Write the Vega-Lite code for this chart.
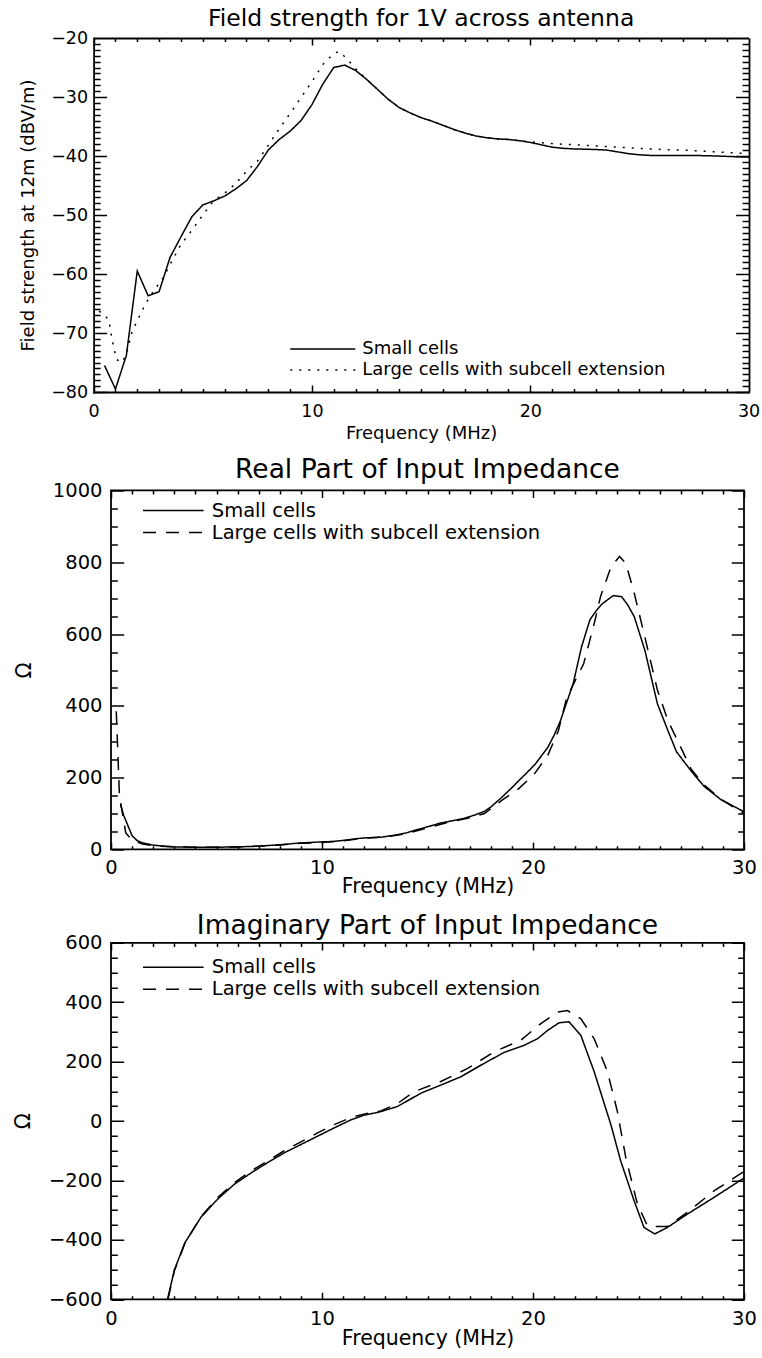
{
  "$schema": "https://vega.github.io/schema/vega-lite/v6.json",
  "background": "white",
  "padding": {"left": 11, "top": 6, "right": 0, "bottom": 0},
  "config": {
    "font": "DejaVu Sans",
    "view": {"stroke": "black", "strokeWidth": 1.8},
    "axis": {"domain": false, "grid": true, "gridColor": "black", "gridOpacity": 1, "ticks": false, "tickSize": 0, "labelColor": "black", "titleColor": "black", "titleFontWeight": "normal", "labelFont": "DejaVu Sans", "titleFont": "DejaVu Sans", "labelFlush": false, "labelOverlap": false, "domainColor": "black", "domainWidth": 1.8, "domainCap": "square"},
    "legend": {"labelColor": "black", "labelFont": "DejaVu Sans", "labelLimit": 1000},
    "title": {"color": "black", "fontWeight": "normal", "font": "DejaVu Sans", "anchor": "middle", "frame": "group", "baseline": "alphabetic"}
  },
  "datasets": {
    "field": [
      {"f": 0.5, "v": -75.5, "s": "Small cells"}, {"f": 1.0, "v": -79.5, "s": "Small cells"}, {"f": 1.5, "v": -73.8, "s": "Small cells"}, {"f": 2.0, "v": -59.5, "s": "Small cells"}, {"f": 2.5, "v": -63.7, "s": "Small cells"}, {"f": 3.0, "v": -63.0, "s": "Small cells"}, {"f": 3.5, "v": -57.2, "s": "Small cells"}, {"f": 4.0, "v": -53.7, "s": "Small cells"}, {"f": 4.5, "v": -50.3, "s": "Small cells"}, {"f": 5.0, "v": -48.3, "s": "Small cells"}, {"f": 5.5, "v": -47.6, "s": "Small cells"}, {"f": 6.0, "v": -46.8, "s": "Small cells"}, {"f": 6.5, "v": -45.6, "s": "Small cells"}, {"f": 7.0, "v": -44.2, "s": "Small cells"}, {"f": 7.5, "v": -41.8, "s": "Small cells"}, {"f": 8.0, "v": -39.0, "s": "Small cells"}, {"f": 8.5, "v": -37.2, "s": "Small cells"}, {"f": 9.0, "v": -35.8, "s": "Small cells"}, {"f": 9.5, "v": -34.0, "s": "Small cells"}, {"f": 10.0, "v": -31.3, "s": "Small cells"}, {"f": 10.5, "v": -27.8, "s": "Small cells"}, {"f": 11.0, "v": -25.0, "s": "Small cells"}, {"f": 11.5, "v": -24.6, "s": "Small cells"}, {"f": 12.0, "v": -25.5, "s": "Small cells"}, {"f": 12.5, "v": -27.0, "s": "Small cells"}, {"f": 13.0, "v": -28.7, "s": "Small cells"}, {"f": 13.5, "v": -30.4, "s": "Small cells"}, {"f": 14.0, "v": -31.8, "s": "Small cells"}, {"f": 14.5, "v": -32.7, "s": "Small cells"}, {"f": 15.0, "v": -33.5, "s": "Small cells"}, {"f": 15.5, "v": -34.1, "s": "Small cells"}, {"f": 16.0, "v": -34.8, "s": "Small cells"}, {"f": 16.5, "v": -35.5, "s": "Small cells"}, {"f": 17.0, "v": -36.1, "s": "Small cells"}, {"f": 17.5, "v": -36.6, "s": "Small cells"}, {"f": 18.0, "v": -36.9, "s": "Small cells"}, {"f": 18.5, "v": -37.1, "s": "Small cells"}, {"f": 19.0, "v": -37.2, "s": "Small cells"}, {"f": 19.5, "v": -37.4, "s": "Small cells"}, {"f": 20.0, "v": -37.7, "s": "Small cells"}, {"f": 20.5, "v": -38.1, "s": "Small cells"}, {"f": 21.0, "v": -38.5, "s": "Small cells"}, {"f": 21.5, "v": -38.7, "s": "Small cells"}, {"f": 22.0, "v": -38.8, "s": "Small cells"}, {"f": 23.0, "v": -38.9, "s": "Small cells"}, {"f": 23.5, "v": -39.0, "s": "Small cells"}, {"f": 24.0, "v": -39.3, "s": "Small cells"}, {"f": 24.5, "v": -39.6, "s": "Small cells"}, {"f": 25.0, "v": -39.8, "s": "Small cells"}, {"f": 25.5, "v": -39.9, "s": "Small cells"}, {"f": 26.5, "v": -39.9, "s": "Small cells"}, {"f": 27.5, "v": -39.9, "s": "Small cells"}, {"f": 28.5, "v": -40.0, "s": "Small cells"}, {"f": 30.0, "v": -40.2, "s": "Small cells"},
      {"f": 0.25, "v": -66.3, "s": "Large cells with subcell extension"}, {"f": 0.5, "v": -67.0, "s": "Large cells with subcell extension"}, {"f": 0.7, "v": -67.8, "s": "Large cells with subcell extension"}, {"f": 0.85, "v": -71.2, "s": "Large cells with subcell extension"}, {"f": 1.05, "v": -74.5, "s": "Large cells with subcell extension"}, {"f": 1.3, "v": -75.0, "s": "Large cells with subcell extension"}, {"f": 1.5, "v": -73.6, "s": "Large cells with subcell extension"}, {"f": 1.75, "v": -69.9, "s": "Large cells with subcell extension"}, {"f": 2.0, "v": -67.9, "s": "Large cells with subcell extension"}, {"f": 2.4, "v": -64.9, "s": "Large cells with subcell extension"}, {"f": 2.8, "v": -62.6, "s": "Large cells with subcell extension"}, {"f": 3.2, "v": -60.6, "s": "Large cells with subcell extension"}, {"f": 3.5, "v": -58.4, "s": "Large cells with subcell extension"}, {"f": 4.0, "v": -55.0, "s": "Large cells with subcell extension"}, {"f": 4.5, "v": -52.6, "s": "Large cells with subcell extension"}, {"f": 5.0, "v": -50.0, "s": "Large cells with subcell extension"}, {"f": 5.5, "v": -47.6, "s": "Large cells with subcell extension"}, {"f": 6.0, "v": -46.3, "s": "Large cells with subcell extension"}, {"f": 6.5, "v": -44.7, "s": "Large cells with subcell extension"}, {"f": 7.0, "v": -42.6, "s": "Large cells with subcell extension"}, {"f": 7.5, "v": -40.9, "s": "Large cells with subcell extension"}, {"f": 8.0, "v": -38.2, "s": "Large cells with subcell extension"}, {"f": 8.5, "v": -35.4, "s": "Large cells with subcell extension"}, {"f": 9.0, "v": -32.8, "s": "Large cells with subcell extension"}, {"f": 9.5, "v": -30.1, "s": "Large cells with subcell extension"}, {"f": 10.0, "v": -27.4, "s": "Large cells with subcell extension"}, {"f": 10.5, "v": -24.5, "s": "Large cells with subcell extension"}, {"f": 11.0, "v": -22.6, "s": "Large cells with subcell extension"}, {"f": 11.25, "v": -22.3, "s": "Large cells with subcell extension"}, {"f": 11.6, "v": -23.5, "s": "Large cells with subcell extension"}, {"f": 12.0, "v": -25.2, "s": "Large cells with subcell extension"}, {"f": 12.5, "v": -27.0, "s": "Large cells with subcell extension"}, {"f": 13.0, "v": -28.7, "s": "Large cells with subcell extension"}, {"f": 13.5, "v": -30.4, "s": "Large cells with subcell extension"}, {"f": 14.0, "v": -31.8, "s": "Large cells with subcell extension"}, {"f": 14.5, "v": -32.7, "s": "Large cells with subcell extension"}, {"f": 15.0, "v": -33.5, "s": "Large cells with subcell extension"}, {"f": 15.5, "v": -34.1, "s": "Large cells with subcell extension"}, {"f": 16.0, "v": -34.8, "s": "Large cells with subcell extension"}, {"f": 16.5, "v": -35.5, "s": "Large cells with subcell extension"}, {"f": 17.0, "v": -36.1, "s": "Large cells with subcell extension"}, {"f": 17.5, "v": -36.6, "s": "Large cells with subcell extension"}, {"f": 18.0, "v": -36.9, "s": "Large cells with subcell extension"}, {"f": 18.5, "v": -37.1, "s": "Large cells with subcell extension"}, {"f": 19.0, "v": -37.2, "s": "Large cells with subcell extension"}, {"f": 20.0, "v": -37.6, "s": "Large cells with subcell extension"}, {"f": 21.0, "v": -37.9, "s": "Large cells with subcell extension"}, {"f": 22.0, "v": -38.1, "s": "Large cells with subcell extension"}, {"f": 23.0, "v": -38.3, "s": "Large cells with subcell extension"}, {"f": 24.0, "v": -38.5, "s": "Large cells with subcell extension"}, {"f": 25.0, "v": -38.7, "s": "Large cells with subcell extension"}, {"f": 26.0, "v": -38.9, "s": "Large cells with subcell extension"}, {"f": 27.0, "v": -39.0, "s": "Large cells with subcell extension"}, {"f": 28.0, "v": -39.2, "s": "Large cells with subcell extension"}, {"f": 29.0, "v": -39.4, "s": "Large cells with subcell extension"}, {"f": 30.0, "v": -39.6, "s": "Large cells with subcell extension"}
    ],
    "real": [
      {"f": 0.45, "v": 125, "s": "Small cells"}, {"f": 0.6, "v": 95, "s": "Small cells"}, {"f": 1.0, "v": 38, "s": "Small cells"}, {"f": 1.25, "v": 24, "s": "Small cells"}, {"f": 1.5, "v": 18, "s": "Small cells"}, {"f": 2.0, "v": 12, "s": "Small cells"}, {"f": 2.5, "v": 9, "s": "Small cells"}, {"f": 3.0, "v": 7, "s": "Small cells"}, {"f": 4.0, "v": 6, "s": "Small cells"}, {"f": 5.0, "v": 6, "s": "Small cells"}, {"f": 6.0, "v": 7, "s": "Small cells"}, {"f": 7.0, "v": 9, "s": "Small cells"}, {"f": 8.0, "v": 13, "s": "Small cells"}, {"f": 9.0, "v": 18, "s": "Small cells"}, {"f": 10.0, "v": 21, "s": "Small cells"}, {"f": 10.5, "v": 22, "s": "Small cells"}, {"f": 11.0, "v": 25, "s": "Small cells"}, {"f": 11.5, "v": 29, "s": "Small cells"}, {"f": 12.0, "v": 32, "s": "Small cells"}, {"f": 12.8, "v": 34, "s": "Small cells"}, {"f": 13.5, "v": 40, "s": "Small cells"}, {"f": 14.0, "v": 46, "s": "Small cells"}, {"f": 14.5, "v": 55, "s": "Small cells"}, {"f": 15.0, "v": 63, "s": "Small cells"}, {"f": 15.6, "v": 73, "s": "Small cells"}, {"f": 16.2, "v": 80, "s": "Small cells"}, {"f": 16.7, "v": 86, "s": "Small cells"}, {"f": 17.2, "v": 95, "s": "Small cells"}, {"f": 17.7, "v": 106, "s": "Small cells"}, {"f": 18.0, "v": 118, "s": "Small cells"}, {"f": 18.5, "v": 144, "s": "Small cells"}, {"f": 19.0, "v": 172, "s": "Small cells"}, {"f": 19.3, "v": 190, "s": "Small cells"}, {"f": 19.7, "v": 213, "s": "Small cells"}, {"f": 20.1, "v": 237, "s": "Small cells"}, {"f": 20.7, "v": 284, "s": "Small cells"}, {"f": 21.0, "v": 318, "s": "Small cells"}, {"f": 21.3, "v": 358, "s": "Small cells"}, {"f": 21.6, "v": 410, "s": "Small cells"}, {"f": 21.9, "v": 461, "s": "Small cells"}, {"f": 22.3, "v": 564, "s": "Small cells"}, {"f": 22.7, "v": 640, "s": "Small cells"}, {"f": 23.0, "v": 665, "s": "Small cells"}, {"f": 23.3, "v": 685, "s": "Small cells"}, {"f": 23.8, "v": 707, "s": "Small cells"}, {"f": 24.2, "v": 704, "s": "Small cells"}, {"f": 24.5, "v": 680, "s": "Small cells"}, {"f": 24.8, "v": 648, "s": "Small cells"}, {"f": 25.3, "v": 555, "s": "Small cells"}, {"f": 25.9, "v": 405, "s": "Small cells"}, {"f": 26.4, "v": 330, "s": "Small cells"}, {"f": 26.8, "v": 272, "s": "Small cells"}, {"f": 27.5, "v": 218, "s": "Small cells"}, {"f": 28.1, "v": 176, "s": "Small cells"}, {"f": 28.9, "v": 139, "s": "Small cells"}, {"f": 29.8, "v": 111, "s": "Small cells"}, {"f": 30.0, "v": 105, "s": "Small cells"},
      {"f": 0.25, "v": 385, "s": "Large cells with subcell extension"}, {"f": 0.4, "v": 150, "s": "Large cells with subcell extension"}, {"f": 0.7, "v": 46, "s": "Large cells with subcell extension"}, {"f": 1.0, "v": 26, "s": "Large cells with subcell extension"}, {"f": 1.5, "v": 15, "s": "Large cells with subcell extension"}, {"f": 2.0, "v": 10, "s": "Large cells with subcell extension"}, {"f": 3.0, "v": 7, "s": "Large cells with subcell extension"}, {"f": 4.0, "v": 6, "s": "Large cells with subcell extension"}, {"f": 5.0, "v": 6, "s": "Large cells with subcell extension"}, {"f": 6.0, "v": 7, "s": "Large cells with subcell extension"}, {"f": 7.0, "v": 9, "s": "Large cells with subcell extension"}, {"f": 8.0, "v": 12, "s": "Large cells with subcell extension"}, {"f": 9.0, "v": 17, "s": "Large cells with subcell extension"}, {"f": 10.0, "v": 19, "s": "Large cells with subcell extension"}, {"f": 11.0, "v": 24, "s": "Large cells with subcell extension"}, {"f": 12.0, "v": 31, "s": "Large cells with subcell extension"}, {"f": 13.0, "v": 35, "s": "Large cells with subcell extension"}, {"f": 14.0, "v": 44, "s": "Large cells with subcell extension"}, {"f": 15.0, "v": 60, "s": "Large cells with subcell extension"}, {"f": 16.0, "v": 76, "s": "Large cells with subcell extension"}, {"f": 17.0, "v": 88, "s": "Large cells with subcell extension"}, {"f": 17.7, "v": 100, "s": "Large cells with subcell extension"}, {"f": 18.6, "v": 140, "s": "Large cells with subcell extension"}, {"f": 19.3, "v": 168, "s": "Large cells with subcell extension"}, {"f": 20.05, "v": 209, "s": "Large cells with subcell extension"}, {"f": 20.7, "v": 262, "s": "Large cells with subcell extension"}, {"f": 21.2, "v": 330, "s": "Large cells with subcell extension"}, {"f": 21.6, "v": 423, "s": "Large cells with subcell extension"}, {"f": 22.0, "v": 470, "s": "Large cells with subcell extension"}, {"f": 22.4, "v": 517, "s": "Large cells with subcell extension"}, {"f": 22.9, "v": 629, "s": "Large cells with subcell extension"}, {"f": 23.2, "v": 704, "s": "Large cells with subcell extension"}, {"f": 23.7, "v": 788, "s": "Large cells with subcell extension"}, {"f": 24.1, "v": 816, "s": "Large cells with subcell extension"}, {"f": 24.4, "v": 797, "s": "Large cells with subcell extension"}, {"f": 24.8, "v": 713, "s": "Large cells with subcell extension"}, {"f": 25.3, "v": 592, "s": "Large cells with subcell extension"}, {"f": 25.9, "v": 443, "s": "Large cells with subcell extension"}, {"f": 26.4, "v": 358, "s": "Large cells with subcell extension"}, {"f": 27.0, "v": 285, "s": "Large cells with subcell extension"}, {"f": 27.5, "v": 223, "s": "Large cells with subcell extension"}, {"f": 28.1, "v": 180, "s": "Large cells with subcell extension"}, {"f": 28.9, "v": 140, "s": "Large cells with subcell extension"}, {"f": 29.8, "v": 107, "s": "Large cells with subcell extension"}, {"f": 30.0, "v": 100, "s": "Large cells with subcell extension"}
    ],
    "imag": [
      {"f": 2.68, "v": -600, "s": "Small cells"}, {"f": 3.0, "v": -502, "s": "Small cells"}, {"f": 3.5, "v": -410, "s": "Small cells"}, {"f": 4.26, "v": -324, "s": "Small cells"}, {"f": 5.05, "v": -263, "s": "Small cells"}, {"f": 5.84, "v": -213, "s": "Small cells"}, {"f": 6.63, "v": -175, "s": "Small cells"}, {"f": 7.42, "v": -140, "s": "Small cells"}, {"f": 8.21, "v": -107, "s": "Small cells"}, {"f": 9.0, "v": -79, "s": "Small cells"}, {"f": 9.79, "v": -51, "s": "Small cells"}, {"f": 10.58, "v": -23, "s": "Small cells"}, {"f": 11.37, "v": 4, "s": "Small cells"}, {"f": 12.0, "v": 20, "s": "Small cells"}, {"f": 12.7, "v": 30, "s": "Small cells"}, {"f": 13.58, "v": 49, "s": "Small cells"}, {"f": 14.69, "v": 94, "s": "Small cells"}, {"f": 15.63, "v": 121, "s": "Small cells"}, {"f": 16.58, "v": 149, "s": "Small cells"}, {"f": 17.53, "v": 188, "s": "Small cells"}, {"f": 18.63, "v": 231, "s": "Small cells"}, {"f": 19.58, "v": 255, "s": "Small cells"}, {"f": 20.21, "v": 277, "s": "Small cells"}, {"f": 20.69, "v": 305, "s": "Small cells"}, {"f": 21.24, "v": 331, "s": "Small cells"}, {"f": 21.71, "v": 334, "s": "Small cells"}, {"f": 22.27, "v": 288, "s": "Small cells"}, {"f": 22.9, "v": 166, "s": "Small cells"}, {"f": 23.69, "v": -12, "s": "Small cells"}, {"f": 24.16, "v": -135, "s": "Small cells"}, {"f": 24.79, "v": -268, "s": "Small cells"}, {"f": 25.26, "v": -358, "s": "Small cells"}, {"f": 25.77, "v": -380, "s": "Small cells"}, {"f": 26.37, "v": -358, "s": "Small cells"}, {"f": 27.32, "v": -313, "s": "Small cells"}, {"f": 28.58, "v": -257, "s": "Small cells"}, {"f": 29.84, "v": -199, "s": "Small cells"}, {"f": 30.0, "v": -192, "s": "Small cells"},
      {"f": 2.7, "v": -600, "s": "Large cells with subcell extension"}, {"f": 3.0, "v": -505, "s": "Large cells with subcell extension"}, {"f": 3.5, "v": -412, "s": "Large cells with subcell extension"}, {"f": 4.26, "v": -322, "s": "Large cells with subcell extension"}, {"f": 5.05, "v": -258, "s": "Large cells with subcell extension"}, {"f": 5.84, "v": -208, "s": "Large cells with subcell extension"}, {"f": 6.63, "v": -168, "s": "Large cells with subcell extension"}, {"f": 7.42, "v": -135, "s": "Large cells with subcell extension"}, {"f": 8.21, "v": -100, "s": "Large cells with subcell extension"}, {"f": 9.0, "v": -70, "s": "Large cells with subcell extension"}, {"f": 9.79, "v": -40, "s": "Large cells with subcell extension"}, {"f": 10.58, "v": -12, "s": "Large cells with subcell extension"}, {"f": 11.37, "v": 12, "s": "Large cells with subcell extension"}, {"f": 12.2, "v": 27, "s": "Large cells with subcell extension"}, {"f": 12.79, "v": 34, "s": "Large cells with subcell extension"}, {"f": 13.6, "v": 60, "s": "Large cells with subcell extension"}, {"f": 14.37, "v": 99, "s": "Large cells with subcell extension"}, {"f": 15.63, "v": 133, "s": "Large cells with subcell extension"}, {"f": 16.9, "v": 177, "s": "Large cells with subcell extension"}, {"f": 18.16, "v": 233, "s": "Large cells with subcell extension"}, {"f": 19.42, "v": 272, "s": "Large cells with subcell extension"}, {"f": 20.37, "v": 328, "s": "Large cells with subcell extension"}, {"f": 21.16, "v": 367, "s": "Large cells with subcell extension"}, {"f": 21.63, "v": 372, "s": "Large cells with subcell extension"}, {"f": 22.27, "v": 344, "s": "Large cells with subcell extension"}, {"f": 22.9, "v": 277, "s": "Large cells with subcell extension"}, {"f": 23.53, "v": 166, "s": "Large cells with subcell extension"}, {"f": 24.0, "v": 32, "s": "Large cells with subcell extension"}, {"f": 24.4, "v": -124, "s": "Large cells with subcell extension"}, {"f": 24.95, "v": -280, "s": "Large cells with subcell extension"}, {"f": 25.42, "v": -352, "s": "Large cells with subcell extension"}, {"f": 25.74, "v": -355, "s": "Large cells with subcell extension"}, {"f": 26.37, "v": -355, "s": "Large cells with subcell extension"}, {"f": 27.32, "v": -307, "s": "Large cells with subcell extension"}, {"f": 28.58, "v": -235, "s": "Large cells with subcell extension"}, {"f": 29.84, "v": -177, "s": "Large cells with subcell extension"}, {"f": 30.0, "v": -170, "s": "Large cells with subcell extension"}
    ]
  },
  "columns": 1,
  "align": "none",
  "bounds": "full",
  "spacing": 13.4,
  "resolve": {"scale": {"strokeDash": "independent"}},
  "concat": [
    {
      "width": 637.6, "height": 354,
      "view": {"stroke": null},
      "title": {"text": "Field strength for 1V across antenna", "fontSize": 23.5, "offset": -1, "dx": -8.7},
      "data": {"name": "field"},
      "mark": {"type": "line", "color": "black", "strokeWidth": 1.5, "clip": false},
      "encoding": {
        "x": {"field": "f", "type": "quantitative", "scale": {"domain": [0, 30], "range": [-17.4, 637.6], "nice": false, "zero": false},
          "axis": {"orient": "bottom", "domain": true, "values": [0,1,2,3,4,5,6,7,8,9,10,11,12,13,14,15,16,17,18,19,20,21,22,23,24,25,26,27,28,29,30], "format": "d", "labelExpr": "datum.value % 10 === 0 ? datum.label : ''", "labelPadding": 19, "labelFontSize": 17.5, "labelBaseline": "middle",
            "gridDash": {"condition": [{"test": "datum.value === 30", "value": [1, 0]}, {"test": "datum.value % 10 === 0", "value": [7, 340]}], "value": [3.5, 347]},
            "gridWidth": {"condition": {"test": "datum.value === 30", "value": 1.8}, "value": 1.5},
            "title": "Frequency (MHz)", "titleFontSize": 18, "titleX": 310.1, "titleY": 46, "titleBaseline": "alphabetic", "titleAlign": "center"}},
        "y": {"field": "v", "type": "quantitative", "scale": {"domain": [-80, -20], "nice": false, "zero": false},
          "axis": {"orient": "left", "offset": 17.4, "domain": true, "values": [-80,-79,-78,-77,-76,-75,-74,-73,-72,-71,-70,-69,-68,-67,-66,-65,-64,-63,-62,-61,-60,-59,-58,-57,-56,-55,-54,-53,-52,-51,-50,-49,-48,-47,-46,-45,-44,-43,-42,-41,-40,-39,-38,-37,-36,-35,-34,-33,-32,-31,-30,-29,-28,-27,-26,-25,-24,-23,-22,-21,-20], "format": "d", "labelExpr": "datum.value % 10 === 0 ? datum.label : ''", "labelPadding": 6, "labelFontSize": 17.5, "labelBaseline": "middle", "labelAlign": "right",
            "gridDash": {"condition": [{"test": "datum.value === -20", "value": [1, 0]}, {"test": "datum.value % 10 === 0", "value": [13, 629]}], "value": [6.5, 642]},
            "gridWidth": {"condition": {"test": "datum.value === -20", "value": 1.8}, "value": 1.5},
            "title": "Field strength at 12m (dBV/m)", "titleFontSize": 18, "titleX": -60, "titleY": 177, "titleAngle": -90, "titleBaseline": "alphabetic", "titleAlign": "center"}},
        "strokeDash": {"field": "s", "type": "nominal", "scale": {"domain": ["Small cells", "Large cells with subcell extension"], "range": [[1, 0], [2, 7]]},
          "legend": {"orient": "none", "legendX": 178.3, "legendY": 300.5, "title": null, "symbolType": "stroke", "symbolSize": 4225, "symbolStrokeWidth": 1.5, "symbolStrokeColor": "black", "labelFontSize": 18, "labelOffset": 6, "clipHeight": 21, "rowPadding": 0, "padding": 0, "labelBaseline": "middle"}}
      }
    },
    {
      "width": 633, "height": 359,
      "title": {"text": "Real Part of Input Impedance", "fontSize": 26.5, "offset": -3.1},
      "data": {"name": "real"},
      "mark": {"type": "line", "color": "black", "strokeWidth": 1.5, "clip": true},
      "encoding": {
        "x": {"field": "f", "type": "quantitative", "scale": {"domain": [0, 30], "nice": false, "zero": false},
          "axis": {"orient": "bottom", "values": [0,1,2,3,4,5,6,7,8,9,10,11,12,13,14,15,16,17,18,19,20,21,22,23,24,25,26,27,28,29,30], "format": "d", "labelExpr": "datum.value % 10 === 0 ? datum.label : ''", "labelPadding": 18.5, "labelFontSize": 19.5, "labelBaseline": "middle",
            "gridDash": {"condition": {"test": "datum.value % 10 === 0", "value": [7.2, 344.6]}, "value": [3.6, 351.8]},
            "gridWidth": 1.5,
            "title": "Frequency (MHz)", "titleFontSize": 20.5, "titleX": 316.5, "titleY": 43, "titleBaseline": "alphabetic", "titleAlign": "center"}},
        "y": {"field": "v", "type": "quantitative", "scale": {"domain": [0, 1000], "nice": false, "zero": false},
          "axis": {"orient": "left", "values": [0,50,100,150,200,250,300,350,400,450,500,550,600,650,700,750,800,850,900,950,1000], "format": "d", "labelExpr": "datum.value % 200 === 0 ? datum.label : ''", "labelPadding": 9, "labelFontSize": 19.5, "labelBaseline": "middle", "labelAlign": "right",
            "gridDash": {"condition": {"test": "datum.value % 200 === 0", "value": [12.7, 607.6]}, "value": [6.3, 620.4]},
            "gridWidth": 1.5,
            "title": "Ω", "titleFontSize": 21, "titleX": -80.5, "titleY": 179.5, "titleAngle": -90, "titleBaseline": "alphabetic", "titleAlign": "center"}},
        "strokeDash": {"field": "s", "type": "nominal", "scale": {"domain": ["Small cells", "Large cells with subcell extension"], "range": [[1, 0], [13, 10]]},
          "legend": {"orient": "none", "legendX": 30.8, "legendY": 9.2, "title": null, "symbolType": "stroke", "symbolSize": 3672, "symbolStrokeWidth": 1.5, "symbolStrokeColor": "black", "labelFontSize": 19.5, "labelOffset": 7, "clipHeight": 22, "rowPadding": 0, "padding": 0, "labelBaseline": "middle"}}
      }
    },
    {
      "width": 633, "height": 356.5,
      "title": {"text": "Imaginary Part of Input Impedance", "fontSize": 26.5, "offset": -6.5},
      "data": {"name": "imag"},
      "mark": {"type": "line", "color": "black", "strokeWidth": 1.5, "clip": true},
      "encoding": {
        "x": {"field": "f", "type": "quantitative", "scale": {"domain": [0, 30], "nice": false, "zero": false},
          "axis": {"orient": "bottom", "values": [0,1,2,3,4,5,6,7,8,9,10,11,12,13,14,15,16,17,18,19,20,21,22,23,24,25,26,27,28,29,30], "format": "d", "labelExpr": "datum.value % 10 === 0 ? datum.label : ''", "labelPadding": 19, "labelFontSize": 19.5, "labelBaseline": "middle",
            "gridDash": {"condition": {"test": "datum.value % 10 === 0", "value": [7.1, 342.3]}, "value": [3.6, 349.3]},
            "gridWidth": 1.5,
            "title": "Frequency (MHz)", "titleFontSize": 20.5, "titleX": 316.5, "titleY": 45, "titleBaseline": "alphabetic", "titleAlign": "center"}},
        "y": {"field": "v", "type": "quantitative", "scale": {"domain": [-600, 600], "nice": false, "zero": false},
          "axis": {"orient": "left", "values": [-600,-550,-500,-450,-400,-350,-300,-250,-200,-150,-100,-50,0,50,100,150,200,250,300,350,400,450,500,550,600], "format": "d", "labelExpr": "datum.value % 200 === 0 ? datum.label : ''", "labelPadding": 9, "labelFontSize": 19.5, "labelBaseline": "middle", "labelAlign": "right",
            "gridDash": {"condition": {"test": "datum.value % 200 === 0", "value": [12.7, 607.6]}, "value": [6.3, 620.4]},
            "gridWidth": 1.5,
            "title": "Ω", "titleFontSize": 21, "titleX": -82, "titleY": 178, "titleAngle": -90, "titleBaseline": "alphabetic", "titleAlign": "center"}},
        "strokeDash": {"field": "s", "type": "nominal", "scale": {"domain": ["Small cells", "Large cells with subcell extension"], "range": [[1, 0], [13, 10]]},
          "legend": {"orient": "none", "legendX": 30.8, "legendY": 13.5, "title": null, "symbolType": "stroke", "symbolSize": 3672, "symbolStrokeWidth": 1.5, "symbolStrokeColor": "black", "labelFontSize": 19.5, "labelOffset": 7, "clipHeight": 22, "rowPadding": 0, "padding": 0, "labelBaseline": "middle"}}
      }
    }
  ]
}
